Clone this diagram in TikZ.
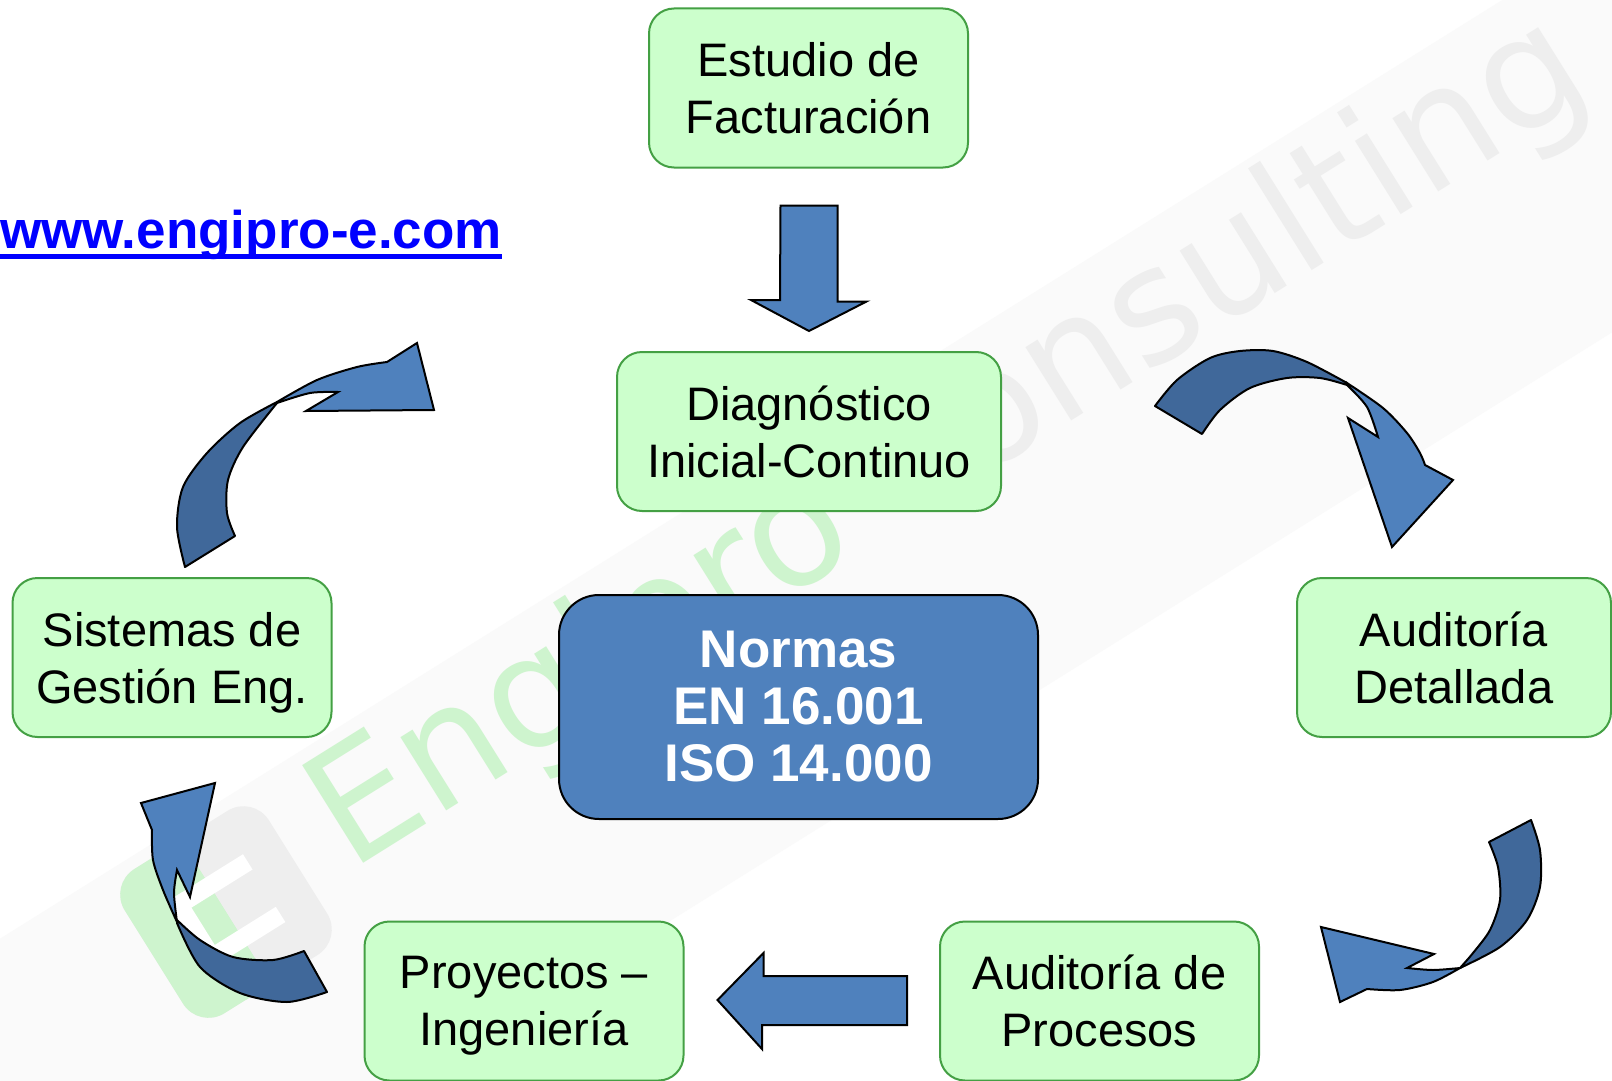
\documentclass[tikz,border=0pt]{standalone}
\usepackage{fontspec}
\setmainfont{Liberation Sans}
\newfontfamily\wmfont{DejaVu Sans}
\usetikzlibrary{calc}
\definecolor{stagefill}{RGB}{204,255,204}
\definecolor{stageline}{RGB}{68,160,68}
\definecolor{normfill}{RGB}{79,129,189}
\definecolor{arrowlight}{RGB}{79,129,189}
\definecolor{arrowdark}{RGB}{64,104,154}
\definecolor{wmgreen}{RGB}{206,244,206}
\definecolor{wmgrey}{RGB}{238,238,238}
\definecolor{urlblue}{RGB}{0,0,255}

\begin{document}
\begin{tikzpicture}[x=1pt,y=-1pt]
\tikzstyle{stage} = [rectangle, rounded corners=25pt, fill=stagefill, draw=stageline, line width=2pt, minimum width=319pt, minimum height=159pt, inner sep=0pt, align=center, text depth=0pt, font=\fontsize{47}{57}\selectfont]
\tikzstyle{norms} = [rectangle, rounded corners=40pt, fill=normfill, draw=black, line width=2pt, minimum width=479pt, minimum height=224pt, inner sep=0pt, align=center, text=white, font=\bfseries\fontsize{53}{57}\selectfont]
\tikzstyle{blockarrow} = [fill=arrowlight, draw=black, line width=2pt, line join=miter]
\tikzstyle{backarrow} = [fill=arrowdark, draw=black, line width=2pt, line join=round]
\tikzstyle{frontarrow} = [fill=arrowlight, draw=black, line width=2pt, line join=miter]

\useasboundingbox (0,0) rectangle (1612,1081);
\fill[white] (0,0) rectangle (1612,1081);

\fill[black!2, rotate around={32:(850,555)}] (-300,430) rectangle (2000,770);
\begin{scope}[shift={(226,912)}, rotate=32]
\fill[wmgrey, rounded corners=30pt] (-85,-85) rectangle (85,85);
\fill[wmgreen, rounded corners=30pt] (-85,-85) rectangle (0,85);
\fill[wmgreen] (-30,-85) rectangle (0,85);
\fill[white] (-45,-40) rectangle (45,-22);
\fill[white] (-45,22) rectangle (45,40);
\fill[white] (-45,-40) rectangle (-27,40);
\end{scope}
\node (marca) [anchor=base west, rotate=32, inner sep=0pt, font=\wmfont\fontsize{158}{158}\selectfont] at (350,872) {\textcolor{wmgreen}{Engipro} \textcolor{wmgrey}{consulting}};

\node (web) [anchor=base west, inner sep=0pt, text=urlblue, font=\bfseries\fontsize{53}{57}\selectfont] at (0,248) {www.engipro-e.com};
\fill[urlblue] ($(web.base west)+(0,6)$) rectangle ($(web.base east)+(0,11)$);

\node (estudio) [stage] at (808.5,88) {Estudio de\\Facturación};
\node (diagnostico) [stage, minimum width=384pt] at (809,431.5) {Diagnóstico\\Inicial-Continuo};
\node (normas) [norms] at (798.5,707) {Normas\\EN 16.001\\ISO 14.000};
\node (sistemas) [stage] at (172,657.5) {Sistemas de\\Gestión Eng.};
\node (auditoria) [stage, minimum width=314pt] at (1454,657.5) {Auditoría\\Detallada};
\node (proyectos) [stage] at (524,1001) {Proyectos –\\Ingeniería};
\node (procesos) [stage] at (1099.5,1001) {Auditoría de\\Procesos};

\draw[blockarrow] ($(estudio.south)+(-28,37)$) -- ++(57,0) -- ++(0,96) -- ++(29,0) -- ($(diagnostico.north)+(0,-20)$) -- ++(-58,-31) -- ++(29,0) -- cycle;
\draw[blockarrow] ($(procesos.west)+(-32,-25)$) -- ++(0,49) -- ++(-145,0) -- ++(0,24) -- ($(proyectos.east)+(33,-1)$) -- ++(46,-47) -- ++(0,23) -- cycle;

\draw[backarrow] plot[smooth] coordinates {(1155,406) (1177,380) (1210,358) (1240,351) (1273,351) (1307,362) (1347,383)} -- plot[smooth] coordinates {(1347,385) (1320,378) (1287,378) (1250,388) (1220,410) (1202,434)} -- cycle;
\draw[frontarrow] plot[smooth] coordinates {(1347,383) (1383,408) (1407,433) (1420,453) (1425,465)} -- (1453,480) -- (1392,547) -- (1348,418) -- plot[smooth] coordinates {(1378,437) (1367,407) (1347,385)} -- cycle;

\draw[backarrow] plot[smooth] coordinates {(1531,820) (1540,850) (1540,887) (1527,920) (1500,947) (1460,968)} -- plot[smooth] coordinates {(1460,968) (1473,953) (1490,930) (1500,900) (1498,867) (1489,842)} -- cycle;
\draw[frontarrow] plot[smooth] coordinates {(1460,968) (1433,982) (1400,990) (1367,989)} -- (1340,1002) -- (1321,927) -- (1434,954) -- plot[smooth] coordinates {(1407,968) (1433,970) (1460,968)} -- cycle;

\draw[backarrow] plot[smooth] coordinates {(327,992) (287,1002) (240,993) (200,967) (177,923)} -- plot[smooth] coordinates {(177,920) (200,940) (233,957) (273,960) (304,951)} -- cycle;
\draw[frontarrow] plot[smooth] coordinates {(177,922) (163,890) (153,860) (152,830)} -- (141,803) -- (215,783) -- (190,897) -- plot[smooth] coordinates {(177,870) (174,893) (177,922)} -- cycle;

\draw[backarrow] plot[smooth] coordinates {(185,567) (177,527) (183,487) (207,453) (240,423) (277,402)} -- plot[smooth] coordinates {(277,403) (243,447) (228,480) (227,513) (235,536)} -- cycle;
\draw[frontarrow] plot[smooth] coordinates {(277,402) (317,380) (357,367) (387,362)} -- (417,343) -- (434,410) -- (306,411) -- plot[smooth] coordinates {(338,392) (310,393) (277,403)} -- cycle;
\end{tikzpicture}
\end{document}
